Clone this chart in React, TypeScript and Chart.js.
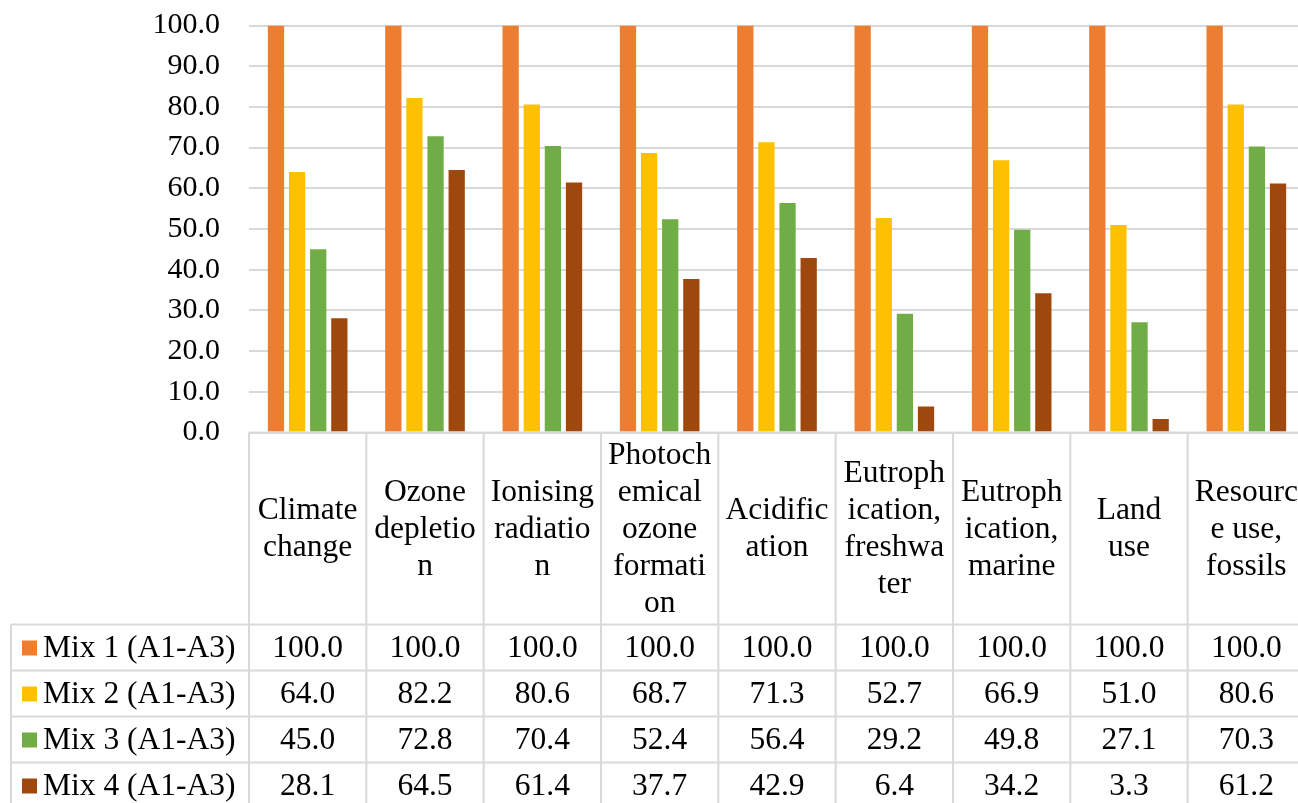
import React, { useEffect, useRef } from "react";
import { Chart, registerables } from "chart.js";

Chart.register(...registerables);

const categories: string[][] = [
  ["Climate", "change"],
  ["Ozone", "depletio", "n"],
  ["Ionising", "radiatio", "n"],
  ["Photoch", "emical", "ozone", "formati", "on"],
  ["Acidific", "ation"],
  ["Eutroph", "ication,", "freshwa", "ter"],
  ["Eutroph", "ication,", "marine"],
  ["Land", "use"],
  ["Resourc", "e use,", "fossils"],
];

const seriesNames = ["Mix 1 (A1-A3)", "Mix 2 (A1-A3)", "Mix 3 (A1-A3)", "Mix 4 (A1-A3)"];
const mix1 = [100.0, 100.0, 100.0, 100.0, 100.0, 100.0, 100.0, 100.0, 100.0];
const mix2 = [64.0, 82.2, 80.6, 68.7, 71.3, 52.7, 66.9, 51.0, 80.6];
const mix3 = [45.0, 72.8, 70.4, 52.4, 56.4, 29.2, 49.8, 27.1, 70.3];
const mix4 = [28.1, 64.5, 61.4, 37.7, 42.9, 6.4, 34.2, 3.3, 61.2];
const seriesColors = ["#ED7D31", "#FFC000", "#70AD47", "#9E480E"];

const FONT = "'Liberation Serif', 'Times New Roman', serif";
const TICK_SIZE = 30;
const TABLE_SIZE = 31.5;
const GRID = "#D9D9D9";

const tablePlugin = {
  id: "dataTable",
  afterDraw(chart: any) {
    const ctx: CanvasRenderingContext2D = chart.ctx;
    const x = chart.scales.x;
    const y = chart.scales.y;
    const n = categories.length;
    const colW = (x.right - x.left) / n;
    const top = y.getPixelForValue(0);
    const headerBottom = top + 192;
    const rowH = 46;
    const legendLeft = 11;
    const bottom = headerBottom + rowH * seriesNames.length;
    ctx.save();
    ctx.strokeStyle = GRID;
    ctx.lineWidth = 2;
    ctx.beginPath();
    for (let i = 0; i <= n; i++) {
      const xx = x.left + i * colW;
      ctx.moveTo(xx, top);
      ctx.lineTo(xx, bottom);
    }
    ctx.moveTo(legendLeft, headerBottom);
    ctx.lineTo(legendLeft, bottom);
    ctx.moveTo(x.left, top);
    ctx.lineTo(x.right, top);
    for (let r = 0; r <= seriesNames.length; r++) {
      const yy = headerBottom + r * rowH;
      ctx.moveTo(legendLeft, yy);
      ctx.lineTo(x.right, yy);
    }
    ctx.stroke();

    ctx.fillStyle = "#000";
    ctx.font = `${TABLE_SIZE}px ${FONT}`;
    ctx.textAlign = "center";
    ctx.textBaseline = "middle";
    const lineH = 37;
    const hc = (top + headerBottom) / 2;
    categories.forEach((lines, i) => {
      const cx = x.getPixelForValue(i);
      const start = hc - ((lines.length - 1) * lineH) / 2;
      lines.forEach((ln, k) => ctx.fillText(ln, cx, start + k * lineH + 1));
    });
    const data = [mix1, mix2, mix3, mix4];
    data.forEach((vals, r) => {
      const cy = headerBottom + r * rowH + rowH / 2 + 1;
      vals.forEach((v, i) => {
        ctx.fillText(v.toFixed(1), x.getPixelForValue(i), cy);
      });
      ctx.fillStyle = seriesColors[r];
      ctx.fillRect(22, cy - 8, 15, 15);
      ctx.fillStyle = "#000";
      ctx.textAlign = "left";
      ctx.fillText(seriesNames[r], 43, cy);
      ctx.textAlign = "center";
    });
    ctx.restore();
  },
};

export default function App() {
  const ref = useRef<HTMLCanvasElement>(null);
  useEffect(() => {
    document.body.style.margin = "0";
    const chart = new Chart(ref.current!, {
      type: "bar",
      data: {
        labels: categories.map((c) => c.join(" ")),
        datasets: [mix1, mix2, mix3, mix4].map((d, i) => ({
          label: seriesNames[i],
          data: d,
          backgroundColor: seriesColors[i],
          borderWidth: 0,
          categoryPercentage: 0.72,
          barPercentage: 0.77,
        })),
      },
      options: {
        animation: false,
        responsive: false,
        maintainAspectRatio: false,
        layout: { padding: { top: 25.5, bottom: 370.5, left: 0, right: 6 } },
        plugins: { legend: { display: false }, tooltip: { enabled: false } },
        scales: {
          x: { display: false },
          y: {
            min: 0,
            max: 100,
            afterFit: (s: any) => {
              s.width = 249;
              s.paddingTop = 0;
              s.paddingBottom = 0;
            },
            border: { display: false },
            grid: { color: GRID, lineWidth: 2, drawTicks: false },
            ticks: {
              stepSize: 10,
              padding: 29,
              color: "#000",
              font: { family: FONT, size: TICK_SIZE },
              callback: (v: any) => Number(v).toFixed(1),
            },
          },
        },
      },
      plugins: [tablePlugin],
    });
    return () => chart.destroy();
  }, []);
  return (
    <div style={{ position: "fixed", left: 0, top: 0, width: 1298, height: 803, overflow: "hidden", background: "#fff" }}>
      <canvas ref={ref} width={1311} height={803} style={{ width: 1311, height: 803 }} />
    </div>
  );
}
